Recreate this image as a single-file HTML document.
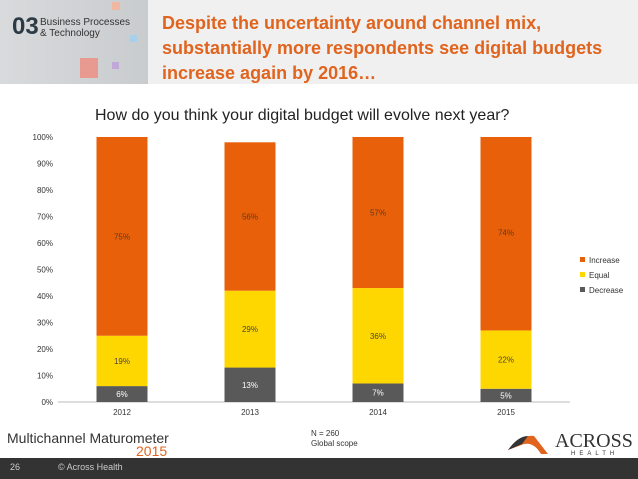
<!DOCTYPE html>
<html><head><meta charset="utf-8"><style>
body{margin:0;width:638px;height:479px;overflow:hidden;background:#fff;font-family:"Liberation Sans",sans-serif;position:relative}
.abs{position:absolute}
</style></head><body>
<div class="abs" style="left:0;top:0;width:638px;height:84px;background:#f0f0f0"></div>
<div class="abs" style="left:0;top:0;width:148px;height:84px;background:linear-gradient(90deg,#d8dadc,#c9ccce)">
 <div class="abs" style="left:80px;top:58px;width:18px;height:20px;background:#e89a90"></div>
 <div class="abs" style="left:112px;top:2px;width:8px;height:8px;background:#f0b8a0"></div>
 <div class="abs" style="left:130px;top:35px;width:7px;height:7px;background:#a8d0e8"></div>
 <div class="abs" style="left:112px;top:62px;width:7px;height:7px;background:#c0a8d8"></div>
</div>
<div class="abs" style="left:12px;top:13px;font-size:24px;font-weight:bold;color:#2b3a44">03</div>
<div class="abs" style="left:40px;top:17px;font-size:10px;line-height:11px;color:#333">Business Processes<br>&amp; Technology</div>
<div class="abs" style="left:162px;top:11px;font-size:18px;line-height:25px;font-weight:bold;color:#e0641e">Despite the uncertainty around channel mix,<br>substantially more respondents see digital budgets<br>increase again by 2016…</div>
<div class="abs" style="left:95px;top:107px;font-size:16px;color:#222">How do you think your digital budget will evolve next year?</div>
<svg class="abs" style="left:0;top:0" width="638" height="479" id="chart"></svg>
<div class="abs" style="left:7px;top:430px;font-size:14px;color:#333">Multichannel Maturometer</div>
<div class="abs" style="left:136px;top:443px;font-size:14px;color:#e0641e">2015</div>
<div class="abs" style="left:311px;top:429px;font-size:8px;line-height:10px;color:#333">N = 260<br>Global scope</div>
<div class="abs" style="left:555px;top:430px;font-family:'Liberation Serif',serif;font-size:20px;color:#333">ACROSS</div>
<div class="abs" style="left:571px;top:451px;font-size:6px;letter-spacing:4px;color:#333">HEALTH</div>
<svg class="abs" style="left:506px;top:432px" width="46" height="24"><path d="M2 18 Q16 2 28 4 L42 22 L35 22 Q28 10 18 12 Z" fill="#e0641e"/><path d="M2 18 Q12 4 22 4 L16 12 Z" fill="#333"/></svg>
<div class="abs" style="left:0;top:458px;width:638px;height:21px;background:#333"></div>
<div class="abs" style="left:10px;top:462px;font-size:9px;color:#ccc">26</div>
<div class="abs" style="left:58px;top:462px;font-size:9px;color:#ccc">© Across Health</div>
<script>
const categories=["2012","2013","2014","2015"];
const decrease=[6,13,7,5];
const equal=[19,29,36,22];
const increase=[75,56,57,74];
const yTicks=[0,10,20,30,40,50,60,70,80,90,100];
const seriesNames=["Increase","Equal","Decrease"];
const svg=document.getElementById('chart');
const NS='http://www.w3.org/2000/svg';
const y0=402,pxPer=2.65,x0=58,step=128,bw=51;
const y=v=>y0-Math.min(v,100)*pxPer;
const xc=i=>x0+64+i*step;
function mk(t,a,txt){const e=document.createElementNS(NS,t);for(const k in a)e.setAttribute(k,a[k]);if(txt!=null)e.textContent=txt;svg.appendChild(e);return e;}
yTicks.forEach(t=>{
 const l=mk('text',{x:53,y:y(t)+3,'text-anchor':'end','font-size':8,fill:'#333'},t+'%');
 
 
});
const ax=mk('line',{x1:x0,x2:570,y1:y0,y2:y0,stroke:'#bbb'});


const cols={d:'#595959',e:'#ffd700',i:'#e8600a'};
categories.forEach((c,i)=>{
 const segs=[[decrease[i],cols.d,'#fff'],[equal[i],cols.e,'#444'],[increase[i],cols.i,'#5a3a20']];
 let base=0;
 segs.forEach((s,j)=>{
  const top=y(base+s[0]),bot=y(base);
  const r=mk('rect',{x:xc(i)-bw/2,y:top,width:bw,height:Math.max(0,bot-top),fill:s[1]});
  
  
  const t=mk('text',{x:xc(i),y:y(base+s[0]/2)+3,'text-anchor':'middle','font-size':8,fill:s[2]},s[0]+'%');
  
  
  base+=s[0];
 });
 const xl=mk('text',{x:xc(i),y:415,'text-anchor':'middle','font-size':8,fill:'#333'},c);
 
 
});
const lc=[cols.i,cols.e,cols.d];
seriesNames.forEach((n,k)=>{
 const r=mk('rect',{x:580,y:257+k*15,width:5,height:5,fill:lc[k]});
 
 
 const t=mk('text',{x:589,y:263+k*15,'font-size':8,fill:'#333'},n);
 
 
});
</script>
</body></html>
